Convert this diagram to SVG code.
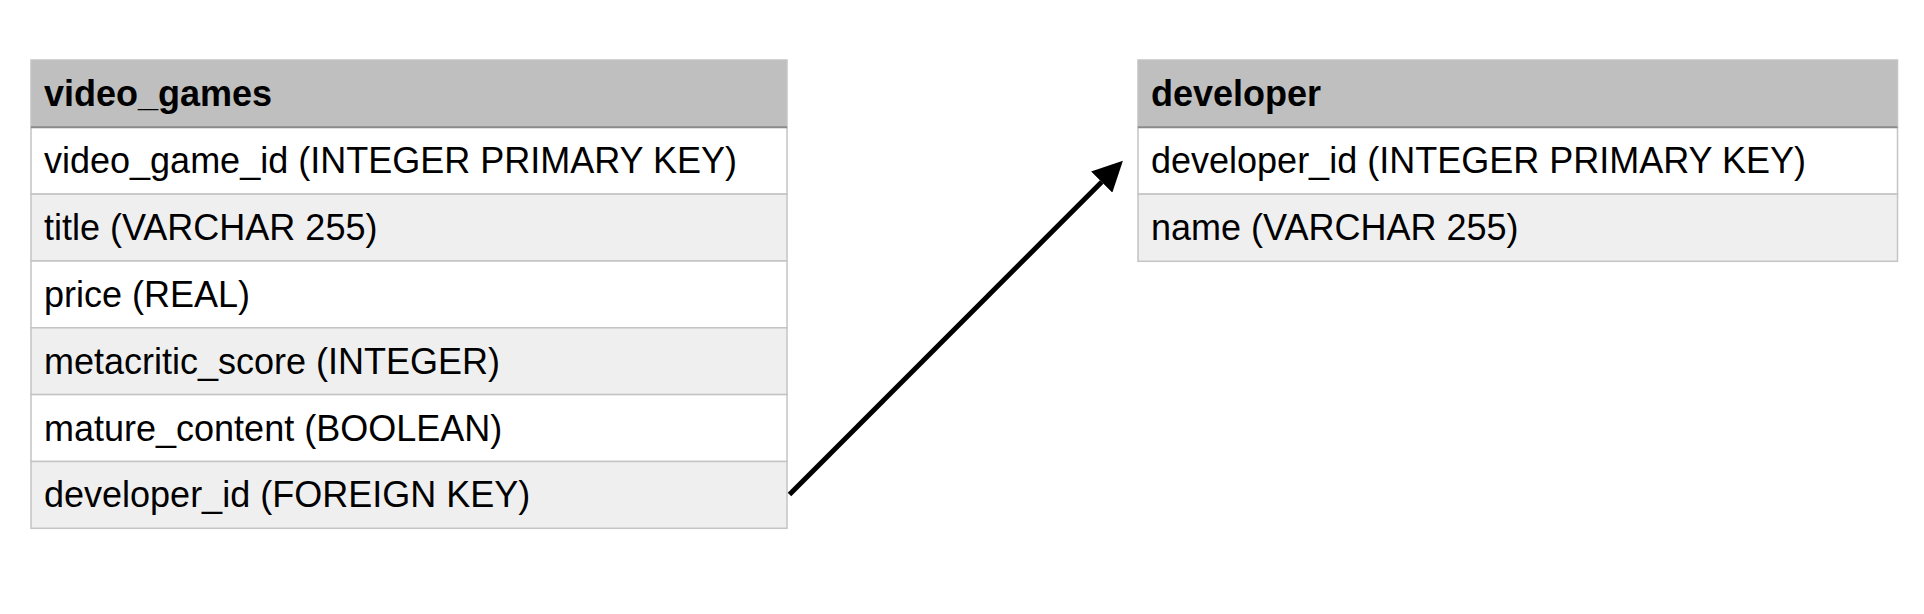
<svg xmlns="http://www.w3.org/2000/svg" width="1924" height="614" viewBox="0 0 1924 614">
<style>
.hdr{fill:#bebfbe;stroke:#c4c4c4;stroke-width:1.5}
.r0{fill:#ffffff;stroke:#c4c4c4;stroke-width:1.5}
.r1{fill:#efefef;stroke:#c4c4c4;stroke-width:1.5}
.div{stroke:#8a8a8a;stroke-width:2}
.ht{font-family:"Liberation Sans",Arial,Helvetica,sans-serif;font-size:36px;font-weight:bold;fill:#000}
.t{font-family:"Liberation Sans",Arial,Helvetica,sans-serif;font-size:36px;fill:#000}
.conn{stroke:#000;stroke-width:5;fill:none}
</style>
<defs>
<marker id="ah" markerUnits="userSpaceOnUse" markerWidth="30" markerHeight="30" viewBox="0 0 28 28" refX="0" refY="14" orient="auto">
<path d="M0,0 L28,14 L0,28 z" fill="#000"/>
</marker>
</defs>
<rect width="1924" height="614" fill="#fff"/>
<g id="video_games">
<rect class="hdr" x="31" y="60" width="756" height="67.3"/>
<rect class="r0" x="31" y="127.3" width="756" height="66.8"/>
<rect class="r1" x="31" y="194.1" width="756" height="66.9"/>
<rect class="r0" x="31" y="261" width="756" height="66.8"/>
<rect class="r1" x="31" y="327.8" width="756" height="66.8"/>
<rect class="r0" x="31" y="394.6" width="756" height="66.9"/>
<rect class="r1" x="31" y="461.5" width="756" height="66.8"/>
<line class="div" x1="31" y1="127.3" x2="787" y2="127.3"/>
<text class="ht" x="44" y="106">video_games</text>
<text class="t" x="44" y="173">video_game_id (INTEGER PRIMARY KEY)</text>
<text class="t" x="44" y="240">title (VARCHAR 255)</text>
<text class="t" x="44" y="307">price (REAL)</text>
<text class="t" x="44" y="373.5">metacritic_score (INTEGER)</text>
<text class="t" x="44" y="440.5">mature_content (BOOLEAN)</text>
<text class="t" x="44" y="507">developer_id (FOREIGN KEY)</text>
</g>
<g id="developer">
<rect class="hdr" x="1138" y="60" width="759.5" height="67.3"/>
<rect class="r0" x="1138" y="127.3" width="759.5" height="66.8"/>
<rect class="r1" x="1138" y="194.1" width="759.5" height="67.2"/>
<line class="div" x1="1138" y1="127.3" x2="1897.5" y2="127.3"/>
<text class="ht" x="1151" y="106">developer</text>
<text class="t" x="1151" y="173">developer_id (INTEGER PRIMARY KEY)</text>
<text class="t" x="1151" y="240">name (VARCHAR 255)</text>
</g>
<g id="connectors">
<line class="conn" x1="789.5" y1="494.5" x2="1101.7" y2="182" marker-end="url(#ah)"/>
</g>
</svg>
